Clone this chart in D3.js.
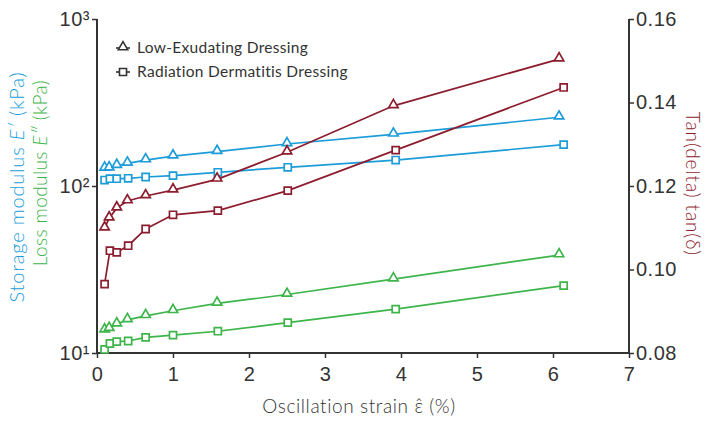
<!DOCTYPE html>
<html>
<head>
<meta charset="utf-8">
<script src="https://cdn.jsdelivr.net/npm/d3@7"></script>
<style>
body{margin:0;background:#fff;}
svg{font-family:Lato,"Open Sans",sans-serif;}
</style>
</head>
<body>
<svg id="chart"></svg>
<script>
// strain values (%) for each dressing
let triX=[0.1,0.16,0.26,0.4,0.64,1.0,1.58,2.5,3.9,6.08];
let sqX=[0.1,0.17,0.26,0.41,0.64,1.0,1.59,2.51,3.93,6.14];

// Low-Exudating Dressing
let triStorage=[127.6,128,132.3,136.7,143,151,160.5,178.5,204,258];
let triLoss=[13.7,14.0,14.9,15.8,16.7,17.9,19.8,22.4,27.7,38.6];
let triTan=[0.1099,0.1123,0.1147,0.1164,0.1176,0.119,0.1216,0.1281,0.1392,0.1504];

// Radiation Dermatitis Dressing
let sqStorage=[108.6,110.6,110.6,111.2,113.2,115.3,120.8,129.4,143,176.8];
let sqLoss=[10.5,11.4,11.7,11.8,12.4,12.8,13.5,15.2,18.3,25.3];
let sqTan=[0.0965,0.1045,0.1041,0.1057,0.1097,0.1131,0.1141,0.1189,0.1286,0.1436];

let xTicks=[0,1,2,3,4,5,6,7];
let leftTicks=[10,100,1000];
let rightTicks=[0.08,0.10,0.12,0.14,0.16];
let legendNames=['Low-Exudating Dressing','Radiation Dermatitis Dressing'];

let width=705;
let height=422;
let pLeft=97, pRight=629, pTop=19, pBottom=353;
let blue='#1c9cd8', green='#3db54a', red='#8c1d2e', ink='#333';

const svg=d3.select('#chart').attr('width',width).attr('height',height);

let xScale=d3.scaleLinear().domain([0,7]).range([pLeft,pRight]);
let yLog=d3.scaleLog().domain([10,1000]).range([pBottom,pTop]);
let yTan=d3.scaleLinear().domain([0.08,0.16]).range([pBottom,pTop]);

// axes
let sup={1:'¹',2:'²',3:'³'};
let xAxis=d3.axisBottom(xScale).tickValues(xTicks).tickSize(5).tickFormat(d3.format('d'));
let yAxisL=d3.axisLeft(yLog).tickValues(leftTicks).tickSize(5).tickFormat(d=>'10'+sup[Math.round(Math.log10(d))]);
let yAxisR=d3.axisRight(yTan).tickValues(rightTicks).tickSize(5).tickFormat(d3.format('.2f'));

function styleAxis(g){
  g.select('.domain').attr('stroke',ink).attr('stroke-width',2);
  g.selectAll('.tick line').attr('stroke',ink).attr('stroke-width',1.5);
  g.selectAll('.tick text').attr('fill',ink).style('font-size','20px').style('letter-spacing','0.5px');
}

svg.append('g').attr('transform','translate(0,'+pBottom+')').call(xAxis).call(styleAxis)
  .call(g=>g.select('.domain').attr('d','M'+pLeft+',0H'+pRight))
  .selectAll('.tick text').attr('dy','1.0em');
svg.append('g').attr('transform','translate('+pLeft+',0)').call(yAxisL).call(styleAxis)
  .call(g=>g.select('.domain').attr('d','M0,'+pTop+'V'+pBottom))
  .selectAll('.tick text').attr('x',-7);
svg.append('g').attr('transform','translate('+pRight+',0)').call(yAxisR).call(styleAxis)
  .call(g=>g.select('.domain').attr('d','M0,'+pTop+'V'+pBottom))
  .selectAll('.tick text').attr('x',7);

// series
let series=[
  {x:triX,y:triStorage,scale:yLog,color:blue,shape:'tri'},
  {x:sqX,y:sqStorage,scale:yLog,color:blue,shape:'sq'},
  {x:triX,y:triTan,scale:yTan,color:red,shape:'tri'},
  {x:sqX,y:sqTan,scale:yTan,color:red,shape:'sq'},
  {x:triX,y:triLoss,scale:yLog,color:green,shape:'tri'},
  {x:sqX,y:sqLoss,scale:yLog,color:green,shape:'sq'}
];

let triSym=d3.symbol().type(d3.symbolTriangle).size(38);
let sqSym=d3.symbol().type(d3.symbolSquare).size(50);

series.forEach(s=>{
  let pts=s.y.map((v,i)=>[xScale(s.x[i]),s.scale(v)]);
  svg.append('path')
    .attr('d',d3.line()(pts))
    .attr('fill','none')
    .attr('stroke',s.color)
    .attr('stroke-width',1.7);
  svg.selectAll(null)
    .data(pts)
    .enter()
    .append('path')
    .attr('d',s.shape=='tri'?triSym:sqSym)
    .attr('transform',d=>'translate('+d[0]+','+(d[1]+(s.shape=='tri'?-1:0))+')')
    .attr('fill','#fff')
    .attr('stroke',s.color)
    .attr('stroke-width',1.7);
});

// legend
let legend=svg.append('g').attr('transform','translate(123,48)');
legendNames.forEach((name,i)=>{
  let g=legend.append('g').attr('transform','translate(0,'+(i*24)+')');
  g.append('line').attr('x1',-7).attr('x2',7).attr('stroke',ink).attr('stroke-width',1.6);
  g.append('path').attr('d',i==0?triSym:sqSym)
    .attr('transform','translate(0,'+(i==0?-1:0)+')')
    .attr('fill','#fff').attr('stroke',ink).attr('stroke-width',1.6);
  g.append('text').attr('x',14).attr('y',5).attr('fill',ink)
    .style('font-size','15.5px').style('letter-spacing','0.3px').text(name);
});

// axis titles
svg.append('text').attr('x',(pLeft+pRight)/2-4).attr('y',413)
  .attr('text-anchor','middle').attr('fill',ink).style('font-size','19px').style('letter-spacing','0.6px')
  .style('font-weight',300)
  .text('Oscillation strain ε̂ (%)');

let tl=svg.append('text').attr('transform','translate(24,187) rotate(-90)')
  .attr('text-anchor','middle').attr('fill',blue).style('font-size','20px').style('letter-spacing','0.8px')
  .style('font-weight',300);
tl.append('tspan').text('Storage modulus ');
tl.append('tspan').style('font-style','italic').text('E′');
tl.append('tspan').text(' (kPa)');

let tl2=svg.append('text').attr('transform','translate(47,173) rotate(-90)')
  .attr('text-anchor','middle').attr('fill',green).style('font-size','19px').style('letter-spacing','0.4px')
  .style('font-weight',300);
tl2.append('tspan').text('Loss modulus ');
tl2.append('tspan').style('font-style','italic').text('E″');
tl2.append('tspan').text(' (kPa)');

svg.append('text').attr('transform','translate(686,184) rotate(90)')
  .attr('text-anchor','middle').attr('fill',red).style('font-size','19px').style('letter-spacing','0.9px')
  .style('font-weight',300)
  .text('Tan(delta) tan(δ)');
</script>
</body>
</html>
